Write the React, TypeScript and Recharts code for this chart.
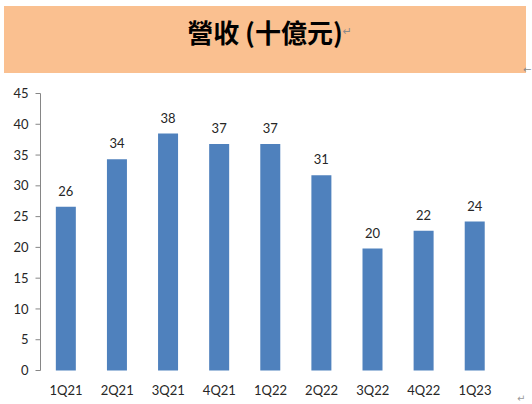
import React from 'react';
import { BarChart, Bar, XAxis, YAxis, LabelList } from 'recharts';

const categories = ['1Q21', '2Q21', '3Q21', '4Q21', '1Q22', '2Q22', '3Q22', '4Q22', '1Q23'];
const revenue = [26.6, 34.3, 38.5, 36.8, 36.8, 31.7, 19.8, 22.7, 24.2];
const valueLabels = ['26', '34', '38', '37', '37', '31', '20', '22', '24'];
const yTicks = [0, 5, 10, 15, 20, 25, 30, 35, 40, 45];
const boundaryTicks = [0, 1, 2, 3, 4, 5, 6, 7, 8, 9];
const title = '營收 (十億元)';

const data = categories.map((quarter, i) => ({
  quarter,
  revenue: revenue[i],
  label: valueLabels[i],
}));

const tickFont = { fill: '#262626', fontSize: 13, fontFamily: 'Lato, "Open Sans", sans-serif' };

export default function App() {
  return (
    <div style={{ position: 'absolute', left: 0, top: 0, width: 532, height: 404, background: '#ffffff', overflow: 'hidden' }}>
      <div
        style={{
          position: 'absolute',
          left: 4,
          top: 6,
          width: 522,
          height: 67,
          background: '#FAC090',
        }}
      />
      <div
        style={{
          position: 'absolute',
          left: 4,
          top: 19,
          width: 522,
          textAlign: 'center',
          whiteSpace: 'nowrap',
          fontFamily: '"Noto Sans CJK TC", "Noto Sans CJK SC", sans-serif',
          fontWeight: 700,
          fontSize: 26,
          lineHeight: '26px',
          color: '#000',
        }}
      >
        <span style={{ position: 'relative' }}>
          {title}
          <span style={{ position: 'absolute', left: '100%', top: 6, fontSize: 11, fontWeight: 400, color: '#8a8a8a', fontFamily: '"DejaVu Sans", sans-serif' }}>↵</span>
        </span>
      </div>
      <div style={{ position: 'absolute', left: 523, top: 64, fontSize: 10, color: '#8a8a8a', fontFamily: '"DejaVu Sans", sans-serif' }}>←</div>
      <div style={{ position: 'absolute', left: 517, top: 393, fontSize: 10, color: '#9a9a9a', fontFamily: '"DejaVu Sans", sans-serif' }}>↵</div>
      <div style={{ position: 'absolute', left: 0, top: 0 }}>
        <BarChart
          width={532}
          height={404}
          data={data}
          margin={{ top: 93.5, right: 31.5, bottom: 0, left: 0 }}
          barCategoryGap="30%"
        >
          <XAxis
            xAxisId="edges"
            type="number"
            domain={[0, 9]}
            ticks={boundaryTicks}
            allowDataOverflow
            height={0}
            tickSize={5}
            stroke="#868686"
            tickFormatter={() => ''}
            interval={0}
          />
          <XAxis
            xAxisId="cat"
            dataKey="quarter"
            height={33.5}
            axisLine={false}
            tickLine={false}
            tickMargin={9}
            interval={0}
            tick={tickFont}
          />
          <YAxis
            domain={[0, 45]}
            ticks={yTicks}
            width={40.5}
            tickSize={5}
            tickMargin={7}
            stroke="#868686"
            interval={0}
            tick={tickFont}
          />
          <Bar xAxisId="cat" dataKey="revenue" fill="#4F81BD" isAnimationActive={false}>
            <LabelList
              dataKey="label"
              position="top"
              offset={11}
              style={{ fill: '#262626', fontSize: 13, fontFamily: 'Lato, "Open Sans", sans-serif' }}
            />
          </Bar>
        </BarChart>
      </div>
    </div>
  );
}
